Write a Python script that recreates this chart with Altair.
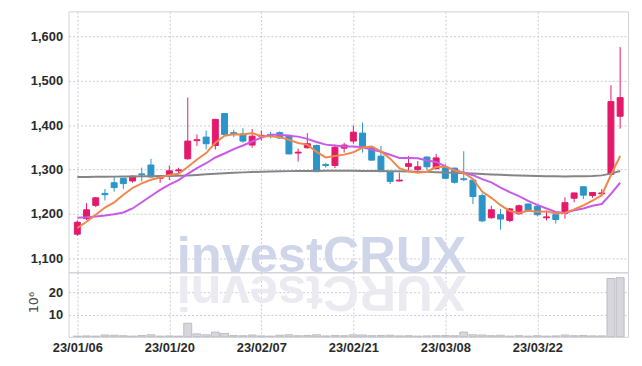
import altair as alt
import pandas as pd

dates = ["23/01/06", "23/01/09", "23/01/10", "23/01/11", "23/01/12", "23/01/13", "23/01/16", "23/01/17",
         "23/01/18", "23/01/19", "23/01/20", "23/01/25", "23/01/26", "23/01/27", "23/01/30", "23/01/31",
         "23/02/01", "23/02/02", "23/02/03", "23/02/06", "23/02/07", "23/02/08", "23/02/09", "23/02/10",
         "23/02/13", "23/02/14", "23/02/15", "23/02/16", "23/02/17", "23/02/20", "23/02/21", "23/02/22",
         "23/02/23", "23/02/24", "23/02/27", "23/02/28", "23/03/02", "23/03/03", "23/03/06", "23/03/07",
         "23/03/08", "23/03/09", "23/03/10", "23/03/13", "23/03/14", "23/03/15", "23/03/16", "23/03/17",
         "23/03/20", "23/03/21", "23/03/22", "23/03/23", "23/03/24", "23/03/27", "23/03/28", "23/03/29",
         "23/03/30", "23/03/31", "23/04/03", "23/04/04"]

opens = [1154, 1189, 1219, 1246, 1270, 1280, 1274, 1290, 1310, 1280,
         1285, 1297, 1324, 1365, 1373, 1354, 1426, 1383, 1380, 1355,
         1375, 1379, 1383, 1377, 1337, 1349, 1354, 1311, 1309, 1348,
         1364, 1382, 1350, 1330, 1294, 1274, 1307, 1300, 1328, 1302,
         1304, 1303, 1279, 1276, 1241, 1191, 1198, 1185, 1200, 1222,
         1217, 1191, 1198, 1201, 1235, 1261, 1241, 1245, 1289, 1420]
highs = [1185, 1224, 1238, 1256, 1283, 1281, 1286, 1304, 1324, 1286,
         1309, 1304, 1462, 1379, 1388, 1414, 1427, 1390, 1393, 1391,
         1388, 1385, 1386, 1378, 1347, 1382, 1356, 1315, 1356, 1360,
         1399, 1406, 1353, 1353, 1295, 1293, 1330, 1319, 1329, 1335,
         1312, 1304, 1341, 1277, 1246, 1218, 1211, 1213, 1221, 1223,
         1218, 1207, 1199, 1237, 1248, 1262, 1249, 1256, 1490, 1576]
lows = [1150, 1186, 1215, 1230, 1250, 1256, 1270, 1273, 1282, 1270,
        1276, 1289, 1322, 1353, 1345, 1345, 1378, 1373, 1360, 1349,
        1365, 1370, 1369, 1334, 1318, 1347, 1294, 1304, 1303, 1338,
        1358, 1338, 1320, 1294, 1267, 1273, 1297, 1295, 1298, 1300,
        1279, 1268, 1274, 1222, 1181, 1189, 1164, 1181, 1198, 1204,
        1194, 1185, 1178, 1189, 1226, 1233, 1236, 1243, 1287, 1392]
closes = [1181, 1209, 1236, 1243, 1259, 1268, 1285, 1288, 1283, 1285,
          1297, 1299, 1364, 1367, 1358, 1413, 1379, 1380, 1364, 1375,
          1377, 1377, 1371, 1335, 1339, 1358, 1295, 1309, 1350, 1355,
          1384, 1349, 1321, 1295, 1273, 1276, 1313, 1306, 1306, 1326,
          1280, 1271, 1277, 1239, 1184, 1209, 1188, 1211, 1218, 1207,
          1198, 1193, 1187, 1225, 1247, 1242, 1248, 1247, 1453, 1462]

ma_short = [1168, 1182, 1198, 1214, 1225.6, 1243, 1258.2, 1268.6, 1276.6, 1281.8,
            1287.6, 1290.4, 1305.6, 1322.4, 1337, 1360.2, 1376.2, 1379.4, 1378.8, 1382.2,
            1375, 1374.6, 1372.8, 1367, 1359.8, 1356, 1339.6, 1327.2, 1330.2, 1333.4,
            1338.6, 1349.4, 1351.8, 1340.8, 1324.4, 1302.8, 1295.6, 1292.6, 1294.8, 1305.4,
            1306.2, 1297.8, 1292, 1278.6, 1250.2, 1236, 1219.4, 1206.2, 1202, 1206.6,
            1204.4, 1205.4, 1200.6, 1202, 1210, 1218.8, 1229.8, 1241.8, 1287.4, 1330.4]
ma_mid = [1191, 1192, 1194, 1196, 1199, 1203, 1212, 1226, 1240, 1254,
          1266, 1276, 1290, 1303, 1314, 1327, 1336, 1346, 1354, 1363,
          1372, 1378, 1378, 1376, 1374, 1369, 1362, 1356, 1354, 1352,
          1352, 1350, 1345, 1340, 1333, 1326, 1326, 1325, 1320, 1317,
          1307, 1298, 1293, 1287, 1278, 1271, 1259, 1249, 1240, 1229,
          1220, 1212, 1204, 1202, 1208, 1212, 1218, 1222, 1245, 1270]
ma_long = [1283.0, 1283.2, 1283.4, 1283.6, 1283.8, 1284.0, 1284.2, 1284.4, 1284.7, 1285.0,
           1285.3, 1285.7, 1286.6, 1287.7, 1288.9, 1290.1, 1291.3, 1292.4, 1293.4, 1294.3,
           1295.0, 1295.5, 1295.9, 1296.2, 1296.4, 1296.6, 1296.7, 1296.8, 1296.8, 1296.8,
           1296.8, 1296.7, 1296.6, 1296.4, 1296.1, 1295.8, 1295.4, 1295.0, 1294.5, 1293.9,
           1293.2, 1292.4, 1291.5, 1290.6, 1289.7, 1288.8, 1287.9, 1287.1, 1286.3, 1285.6,
           1285.0, 1284.6, 1284.4, 1284.3, 1284.4, 1284.7, 1285.3, 1286.6, 1290.5, 1296.5]
volume = [0.3, 0.4, 0.3, 0.8, 0.7, 0.5, 0.3, 0.6, 0.9, 0.3,
          0.4, 0.3, 6.1, 1.3, 0.9, 2.1, 1.5, 0.6, 0.5, 0.8,
          0.4, 0.3, 0.7, 0.9, 0.5, 0.6, 0.9, 0.4, 0.6, 0.5,
          0.9, 0.8, 0.5, 0.6, 0.7, 0.4, 0.5, 0.3, 0.4, 0.5,
          0.6, 0.5, 2.1, 0.9, 0.8, 0.5, 0.7, 0.3, 0.5, 0.3,
          0.5, 0.3, 0.4, 0.8, 0.5, 0.6, 0.4, 0.4, 26.2, 26.6]

price_ticks = [1100, 1200, 1300, 1400, 1500, 1600]
volume_ticks = [10, 20]
tick_idx = [0, 10, 20, 30, 40, 50]

df = pd.DataFrame({
    "idx": list(range(len(dates))),
    "date": dates,
    "open": opens, "high": highs, "low": lows, "close": closes,
    "ma_short": ma_short, "ma_mid": ma_mid, "ma_long": ma_long,
    "volume": volume,
})

RED = "#e5196a"
BLUE = "#2b95c8"
LABEL_FONT = "Liberation Sans"

x_scale = alt.Scale(domain=[-0.42, 59.32], nice=False, zero=False)
y_scale = alt.Scale(domain=[1068, 1656.5], nice=False, zero=False)

x_axis_top = alt.Axis(values=tick_idx, labels=False, ticks=False, domain=False, grid=True, title=None)
y_axis_price = alt.Axis(values=price_ticks, format=",d", ticks=False, domain=False, grid=True,
                        title=None, labelPadding=6, minExtent=55, maxExtent=55)

label_expr = " : ".join(f"datum.value == {i} ? '{dates[i]}'" for i in tick_idx) + " : ''"

up = alt.condition("datum.close >= datum.open", alt.value(RED), alt.value(BLUE))

base = alt.Chart(df).encode(x=alt.X("idx:Q", scale=x_scale, axis=x_axis_top))

watermark = alt.Chart(pd.DataFrame({"t": ["investCRUX"]})).mark_text(
    font="Liberation Sans", fontWeight="bold", fontSize=51, color="#d0d6e9",
    align="left", baseline="alphabetic", clip=True
).encode(text="t:N", x=alt.value(109), y=alt.value(263))

wick = base.mark_rule(strokeWidth=1).encode(
    y=alt.Y("low:Q", scale=y_scale, axis=y_axis_price), y2="high:Q", color=up)
body = base.mark_bar(size=6, strokeWidth=1).encode(
    y=alt.Y("open:Q", scale=y_scale, axis=y_axis_price), y2="close:Q", fill=up, stroke=up)

line_long = base.mark_line(color="#858585", strokeWidth=2).encode(
    y=alt.Y("ma_long:Q", scale=y_scale, axis=y_axis_price))
line_mid = base.mark_line(color="#c95ae8", strokeWidth=2).encode(
    y=alt.Y("ma_mid:Q", scale=y_scale, axis=y_axis_price))
line_short = base.mark_line(color="#f0874c", strokeWidth=2).encode(
    y=alt.Y("ma_short:Q", scale=y_scale, axis=y_axis_price))

price = alt.layer(watermark, wick, body, line_long, line_mid, line_short).properties(width=564, height=263)

reflection = alt.Chart(pd.DataFrame({"t": ["XURCtsevni"]})).mark_text(
    font="Liberation Sans", fontWeight="bold", fontSize=51, color="#eaeaf0",
    align="right", baseline="alphabetic", angle=180, clip=True
).encode(text="t:N", x=alt.value(109), y=alt.value(4))

vol_bars = alt.Chart(df).mark_bar(size=8, fill="#d6d6dc", stroke="#bcbcc6", strokeWidth=1).encode(
    x=alt.X("idx:Q", scale=x_scale,
            axis=alt.Axis(values=tick_idx, labelExpr=label_expr, grid=True, ticks=False,
                          domain=False, title=None, labelPadding=5)),
    y=alt.Y("volume:Q", scale=alt.Scale(domain=[0, 29], nice=False),
            axis=alt.Axis(values=volume_ticks, ticks=False, domain=False, grid=True,
                          title="10⁶", titleX=-35, titleY=30, titleAngle=-90,
                          titleAlign="center", titleBaseline="middle",
                          titleFont="DejaVu Sans", titleFontWeight="normal",
                          titleFontSize=13, titleColor="#444444",
                          labelPadding=6, minExtent=55, maxExtent=55)),
)

vol = alt.layer(reflection, vol_bars).properties(width=564, height=65)

chart = alt.vconcat(price, vol, spacing=0, bounds="flush").properties(
    padding={"left": 5, "top": 1, "right": 5, "bottom": 5}
).configure_view(
    stroke="#d0d0da", strokeWidth=1
).configure_axis(
    gridColor="#c9c9dc", gridDash=[2, 2], gridWidth=1,
    labelFont=LABEL_FONT, labelFontWeight="bold", labelColor="#2a2a2a", labelFontSize=13
)

chart.save("out.html", embed_options={"renderer": "svg", "actions": False})
